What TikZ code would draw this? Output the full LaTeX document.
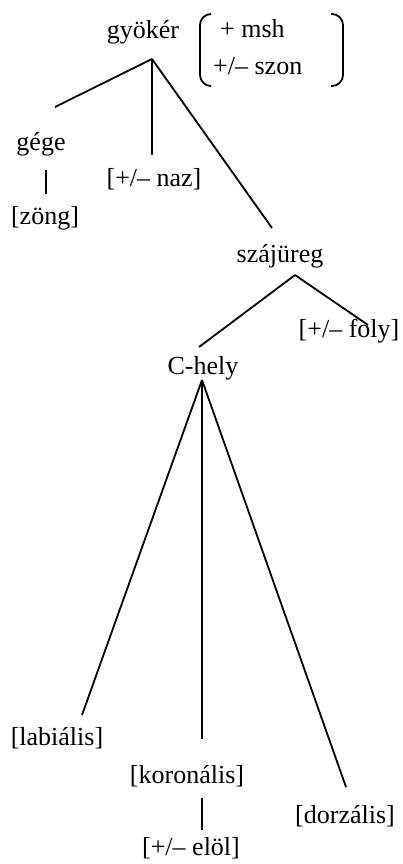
\documentclass[tikz,border=0pt]{standalone}
\usepackage{fontspec}
\setmainfont{Liberation Serif}
\usetikzlibrary{positioning}
\begin{document}
\begin{tikzpicture}[x=1pt, y=-1pt,
		lbl/.style={anchor=base, inner sep=0pt, font=\fontsize{26}{30}\selectfont},
		feat/.style={lbl, anchor=base west},
		branch/.style={line width=1.8pt},
		paren/.style={line width=1.8pt, rounded corners=11pt}
		]
		\useasboundingbox (0,0) rectangle (403,864);
		% Tree labels (placed at their baselines)
		\foreach \name/\x/\y/\txt in {root/143/39/gyökér, gege/41/150/gége, zong/45/224/{[zöng]},
			naz/154/186/{[+/– naz]}, szaj/280/262/szájüreg, foly/349/337/{[+/– foly]},
			chely/203/374/C-hely, labi/57/745/{[labiális]}, koro/187/783/{[koronális]},
			dorz/345/823/{[dorzális]}, elol/191/855/{[+/– elöl]}} {
			\node[lbl] (\name) at (\x, \y) {\txt};
		}
		% Features of the root
		\node[feat] (msh) at (220, 38) {+ msh};
		\node[feat] (szon) at (213, 75) {+/– szon};
		\draw[paren] (210,14) -- (200,14) -- (200,86) -- (210,86);
		\draw[paren] (331,14) -- (343,14) -- (343,86) -- (331,86);
		% Branching points and free ends
		\coordinate (j0) at (152,59);
		\coordinate (j1) at (295,275);
		\coordinate (j2) at (202,380);
		\coordinate (e1) at (55,107);
		\coordinate (e2) at (152,155);
		\coordinate (e3) at (272,228);
		\coordinate (e4) at (199,347);
		\coordinate (e5) at (368,325);
		\coordinate (e6) at (82,715);
		\coordinate (e7) at (202,739);
		\coordinate (e8) at (346,787);
		\coordinate (v1) at (46,170);
		\coordinate (v2) at (46,194);
		\coordinate (v3) at (202,798);
		\coordinate (v4) at (202,830);
		% Branches
		\foreach \a/\b in {j0/e1, j0/e2, j0/e3, j1/e4, j1/e5, j2/e6, j2/e7, j2/e8, v1/v2, v3/v4} {
			\draw[branch] (\a) -- (\b);
		}
	\end{tikzpicture}
\end{document}
